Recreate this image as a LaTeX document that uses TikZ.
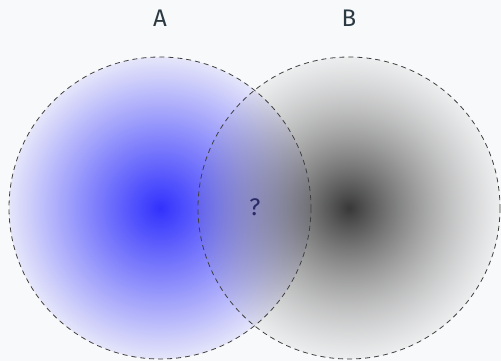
\documentclass[tikz,border=0pt]{standalone}
\usepackage{fontspec}
\usetikzlibrary{fadings}
\setmainfont{Fira Sans}
\definecolor{bgc}{HTML}{F8F9FA}
\definecolor{txt}{HTML}{2B3A42}
\definecolor{qc}{HTML}{2A2A66}
\tikzfading[name=fadeA, inner color=transparent!20, outer color=transparent!93]
\tikzfading[name=fadeB, inner color=transparent!0, outer color=transparent!90]
\begin{document}
\begin{tikzpicture}[x=1pt,y=-1pt,
  circline/.style={draw=black!75, dashed, dash pattern=on 5pt off 4pt, line width=0.8pt},
  lbl/.style={text=txt, font=\fontsize{24}{28}\selectfont, inner sep=0pt}]
\fill[bgc] (0,0) rectangle (501,361);
\useasboundingbox (0,0) rectangle (501,361);
\coordinate (ca) at (160,208);
\coordinate (cb) at (349,208);
\fill[blue, path fading=fadeA] (ca) circle (151);
\shade[inner color=black!78, outer color=black!45, path fading=fadeB] (cb) circle (151);
\draw[circline] (ca) circle (151);
\draw[circline] (cb) circle (151);
\node[lbl] (A) at (160,18) {A};
\node[lbl] (B) at (349,18) {B};
\node[lbl, text=qc] (q) at (255,207) {?};
\end{tikzpicture}
\end{document}
